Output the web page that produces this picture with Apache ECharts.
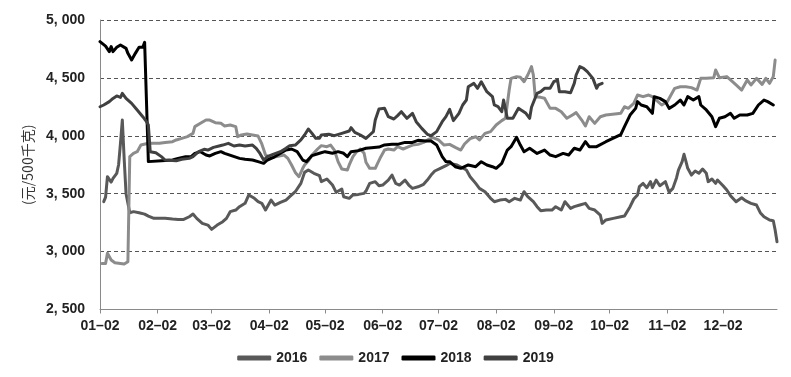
<!DOCTYPE html>
<html><head><meta charset="utf-8">
<script src="https://cdn.jsdelivr.net/npm/echarts/dist/echarts.min.js"></script>
<style>html,body{margin:0;padding:0;background:#fff}#c{width:791px;height:377px}</style>
</head><body><div id="c"></div>
<script>
// Category axis: every day of a (leap) year from 01-02 to 12-31, labels at the 2nd of each month
const monthDays = [31,29,31,30,31,30,31,31,30,31,30,31];
const categories = [];
for (let m = 1; m <= 12; m++) {
  for (let d = 1; d <= monthDays[m-1]; d++) {
    if (m === 1 && d === 1) continue;
    categories.push(String(m).padStart(2,'0') + '-' + String(d).padStart(2,'0'));
  }
}
const yTicks = [2500, 3000, 3500, 4000, 4500, 5000];
const seriesNames = ['2016','2017','2018','2019'];

const s2016 = [['01-04',3431],['01-05',3470],['01-06',3647],['01-08',3600],['01-09',3632],['01-11',3676],['01-12',3750],['01-13',3935],['01-14',4136],['01-15',3800],['01-16',3500],['01-18',3336],['01-20',3345],['01-23',3336],['01-26',3324],['01-28',3307],['01-31',3287],['02-03',3287],['02-06',3287],['02-10',3281],['02-13',3278],['02-16',3278],['02-19',3301],['02-21',3324],['02-23',3287],['02-26',3244],['02-29',3229],['03-02',3192],['03-05',3229],['03-08',3258],['03-10',3287],['03-12',3345],['03-15',3359],['03-17',3388],['03-20',3417],['03-22',3489],['03-25',3460],['03-27',3431],['03-29',3417],['03-31',3359],['04-03',3445],['04-05',3402],['04-08',3425],['04-11',3445],['04-13',3474],['04-16',3517],['04-19',3589],['04-21',3684],['04-23',3704],['04-26',3676],['04-29',3656],['04-30',3604],['05-03',3627],['05-06',3575],['05-08',3512],['05-11',3540],['05-12',3474],['05-15',3460],['05-17',3489],['05-20',3494],['05-23',3503],['05-24',3523],['05-26',3589],['05-29',3604],['05-31',3569],['06-02',3575],['06-05',3618],['06-07',3661],['06-09',3589],['06-11',3575],['06-14',3618],['06-16',3575],['06-18',3546],['06-21',3560],['06-24',3581],['06-26',3618],['06-28',3661],['06-30',3696],['07-03',3719],['07-06',3742],['07-08',3762],['07-12',3748],['07-17',3705],['07-19',3647],['07-22',3589],['07-24',3546],['07-27',3517],['07-30',3460],['08-01',3431],['08-04',3445],['08-07',3451],['08-09',3431],['08-12',3460],['08-15',3445],['08-17',3517],['08-19',3474],['08-22',3431],['08-24',3388],['08-26',3353],['08-29',3359],['09-01',3359],['09-03',3388],['09-06',3359],['09-08',3431],['09-11',3373],['09-13',3388],['09-16',3402],['09-19',3417],['09-21',3373],['09-24',3359],['09-27',3316],['09-28',3244],['09-30',3273],['10-04',3287],['10-08',3301],['10-10',3307],['10-13',3388],['10-15',3454],['10-17',3489],['10-18',3561],['10-20',3589],['10-22',3552],['10-24',3604],['10-25',3552],['10-27',3618],['10-29',3569],['11-01',3604],['11-03',3512],['11-05',3546],['11-07',3638],['11-08',3704],['11-10',3777],['11-11',3840],['11-12',3782],['11-13',3719],['11-15',3661],['11-17',3696],['11-19',3676],['11-21',3713],['11-23',3676],['11-24',3604],['11-26',3627],['11-28',3589],['11-29',3618],['12-02',3569],['12-04',3532],['12-06',3483],['12-09',3431],['12-12',3465],['12-14',3440],['12-17',3417],['12-20',3402],['12-22',3336],['12-24',3301],['12-27',3273],['12-29',3267],['12-30',3186],['12-31',3085]];

const s2017 = [['01-03',2898],['01-05',2898],['01-06',2985],['01-08',2927],['01-10',2904],['01-13',2898],['01-15',2893],['01-17',2913],['01-18',3820],['01-20',3849],['01-22',3863],['01-24',3920],['01-28',3935],['02-03',3935],['02-06',3943],['02-10',3949],['02-12',3964],['02-15',3978],['02-18',3993],['02-21',4021],['02-22',4079],['02-25',4108],['02-28',4136],['03-01',4136],['03-04',4113],['03-07',4108],['03-09',4085],['03-12',4093],['03-15',4079],['03-16',3993],['03-18',4007],['03-21',4016],['03-24',4007],['03-27',3998],['03-29',3930],['03-31',3834],['04-03',3811],['04-06',3820],['04-10',3834],['04-12',3805],['04-14',3748],['04-16',3684],['04-18',3647],['04-20',3719],['04-21',3748],['04-23',3782],['04-25',3834],['04-28',3886],['04-30',3915],['05-03',3906],['05-05',3920],['05-07',3877],['05-09',3777],['05-11',3713],['05-14',3704],['05-15',3748],['05-17',3820],['05-19',3863],['05-21',3886],['05-23',3849],['05-24',3771],['05-26',3719],['05-29',3719],['05-30',3754],['06-01',3820],['06-03',3877],['06-05',3886],['06-08',3877],['06-10',3906],['06-13',3886],['06-16',3906],['06-18',3920],['06-21',3926],['06-24',3943],['06-27',3972],['06-29',3984],['07-02',3964],['07-05',3920],['07-08',3926],['07-11',3900],['07-14',3877],['07-16',3929],['07-19',3975],['07-22',3992],['07-24',3964],['07-27',4021],['07-30',4036],['08-02',4093],['08-05',4131],['08-07',4151],['08-09',4396],['08-10',4496],['08-13',4511],['08-15',4505],['08-17',4467],['08-19',4525],['08-21',4597],['08-22',4525],['08-23',4338],['08-26',4332],['08-28',4324],['08-31',4237],['09-03',4237],['09-06',4208],['09-09',4151],['09-12',4180],['09-14',4200],['09-17',4136],['09-19',4085],['09-21',4165],['09-24',4107],['09-27',4165],['09-30',4180],['10-06',4190],['10-08',4194],['10-10',4251],['10-12',4237],['10-15',4280],['10-17',4352],['10-20',4338],['10-23',4352],['10-25',4338],['10-28',4295],['10-30',4266],['11-02',4295],['11-04',4352],['11-06',4410],['11-09',4424],['11-12',4424],['11-15',4416],['11-18',4395],['11-19',4410],['11-20',4496],['11-23',4496],['11-27',4502],['11-28',4568],['11-30',4502],['12-04',4511],['12-06',4482],['12-09',4439],['12-12',4395],['12-15',4482],['12-17',4439],['12-20',4496],['12-23',4444],['12-25',4496],['12-27',4453],['12-29',4511],['12-30',4654]];

const s2018 = [['01-02',4813],['01-05',4775],['01-07',4727],['01-08',4770],['01-09',4727],['01-11',4764],['01-13',4784],['01-16',4755],['01-17',4712],['01-19',4655],['01-21',4712],['01-23',4764],['01-25',4764],['01-26',4807],['01-28',3777],['02-04',3785],['02-10',3791],['02-13',3805],['02-17',3820],['02-20',3820],['02-22',3848],['02-25',3863],['02-28',3834],['03-01',3826],['03-04',3848],['03-07',3863],['03-09',3848],['03-13',3826],['03-17',3805],['03-20',3797],['03-24',3791],['03-27',3777],['03-30',3762],['04-01',3791],['04-04',3811],['04-08',3849],['04-11',3877],['04-14',3886],['04-17',3863],['04-20',3791],['04-22',3777],['04-25',3829],['04-29',3849],['05-02',3863],['05-06',3849],['05-09',3863],['05-12',3849],['05-14',3820],['05-16',3863],['05-20',3872],['05-24',3892],['05-27',3897],['05-31',3903],['06-03',3921],['06-07',3926],['06-10',3926],['06-14',3943],['06-18',3943],['06-21',3961],['06-25',3955],['06-28',3955],['07-01',3921],['07-04',3820],['07-06',3777],['07-08',3776],['07-11',3733],['07-14',3719],['07-18',3748],['07-22',3733],['07-25',3776],['07-28',3748],['07-31',3733],['08-02',3719],['08-05',3762],['08-08',3877],['08-10',3906],['08-13',3987],['08-15',3920],['08-17',3863],['08-20',3892],['08-24',3848],['08-28',3877],['08-31',3834],['09-03',3820],['09-07',3848],['09-10',3834],['09-13',3892],['09-16',3877],['09-19',3949],['09-21',3906],['09-25',3906],['09-30',3949],['10-02',3964],['10-08',4010],['10-10',4079],['10-13',4179],['10-16',4237],['10-17',4295],['10-19',4266],['10-22',4251],['10-25',4194],['10-26',4338],['10-29',4323],['11-01',4295],['11-03',4237],['11-06',4266],['11-09',4309],['11-11',4266],['11-13',4338],['11-16',4309],['11-19',4338],['11-20',4266],['11-23',4223],['11-26',4165],['11-28',4079],['11-30',4151],['12-03',4165],['12-06',4194],['12-08',4151],['12-11',4180],['12-15',4180],['12-18',4194],['12-21',4266],['12-24',4309],['12-26',4295],['12-29',4266]];

const s2019 = [['01-02',4251],['01-04',4266],['01-07',4295],['01-09',4323],['01-11',4344],['01-13',4332],['01-14',4367],['01-16',4323],['01-17',4332],['01-19',4280],['01-22',4223],['01-25',4165],['01-27',4122],['01-28',4093],['01-29',3863],['02-01',3854],['02-04',3820],['02-06',3791],['02-12',3785],['02-15',3797],['02-19',3805],['02-21',3820],['02-24',3863],['02-27',3883],['02-29',3877],['03-03',3900],['03-06',3912],['03-08',3920],['03-11',3935],['03-14',3912],['03-17',3920],['03-20',3912],['03-24',3920],['03-26',3892],['03-28',3848],['03-30',3791],['04-01',3820],['04-04',3840],['04-08',3863],['04-11',3892],['04-13',3915],['04-16',3920],['04-19',3964],['04-21',4007],['04-23',4059],['04-25',4021],['04-27',3978],['04-29',3978],['04-30',4007],['05-04',4013],['05-07',4001],['05-11',4021],['05-15',4041],['05-16',4070],['05-18',4030],['05-21',4007],['05-24',3978],['05-26',4007],['05-28',4036],['05-29',4136],['05-31',4231],['06-03',4237],['06-05',4165],['06-08',4145],['06-10',4174],['06-12',4208],['06-15',4151],['06-18',4194],['06-20',4122],['06-23',4064],['06-26',4013],['06-28',4001],['07-01',4036],['07-04',4122],['07-06',4165],['07-08',4228],['07-10',4131],['07-13',4194],['07-15',4266],['07-17',4309],['07-18',4424],['07-21',4453],['07-23',4410],['07-25',4467],['07-28',4381],['07-31',4338],['08-01',4266],['08-03',4252],['08-05',4208],['08-06',4309],['08-08',4151],['08-11',4151],['08-14',4237],['08-16',4217],['08-18',4194],['08-20',4151],['08-21',4246],['08-24',4367],['08-26',4381],['08-28',4410],['08-31',4410],['09-02',4467],['09-04',4482],['09-05',4381],['09-08',4381],['09-11',4372],['09-13',4453],['09-14',4525],['09-16',4597],['09-18',4583],['09-20',4554],['09-23',4496],['09-25',4410],['09-26',4439],['09-28',4453]];

const colors = ['#595959', '#8c8c8c', '#000000', '#404040'];
const allData = [s2016, s2017, s2018, s2019];

const chart = echarts.init(document.getElementById('c'), null, {renderer: 'canvas'});
const showTick = (i, v) => /-02$/.test(v);
const font = "'Liberation Sans', Arial, sans-serif";
chart.setOption({
  animation: false,
  backgroundColor: '#ffffff',
  grid: {left: 100, right: 14, top: 20, bottom: 67.5, containLabel: false},
  legend: {
    data: seriesNames, left: 'center', top: 346,
    itemWidth: 34, itemHeight: 5, itemGap: 12, icon: 'roundRect',
    textStyle: {fontSize: 14, fontWeight: 'bold', color: '#222', fontFamily: font}
  },
  xAxis: {
    type: 'category', data: categories, boundaryGap: false,
    axisLine: {lineStyle: {color: '#8a8a8a', width: 1}},
    axisTick: {show: true, interval: showTick, length: 4, lineStyle: {color: '#8a8a8a'}},
    axisLabel: {interval: showTick, formatter: v => v.replace('-', '–'), fontSize: 14, fontWeight: 'bold', color: '#222', margin: 10, fontFamily: font},
    splitLine: {show: false}
  },
  yAxis: {
    type: 'value', min: yTicks[0], max: yTicks[yTicks.length-1], interval: 500,
    axisLine: {show: true, lineStyle: {color: '#8a8a8a', width: 1}},
    axisTick: {show: false},
    axisLabel: {formatter: v => String(v).replace(/(\d)(\d{3})$/, '$1, $2'), fontSize: 14, fontWeight: 'bold', color: '#222', margin: 15, fontFamily: font},
    splitLine: {show: true, lineStyle: {type: [4, 3], color: '#555', width: 1}},
    name: '(元/500千克)', nameLocation: 'middle', nameRotate: 90, nameGap: 63,
    nameTextStyle: {fontSize: 14, color: '#333', fontFamily: "'Noto Sans CJK SC', sans-serif"}
  },
  series: seriesNames.map((n, i) => ({
    name: n, type: 'line', data: allData[i], showSymbol: false, symbol: 'none',
    silent: true, color: colors[i],
    lineStyle: {width: 3, color: colors[i], cap: 'round', join: 'round'}
  }))
});
</script></body></html>
